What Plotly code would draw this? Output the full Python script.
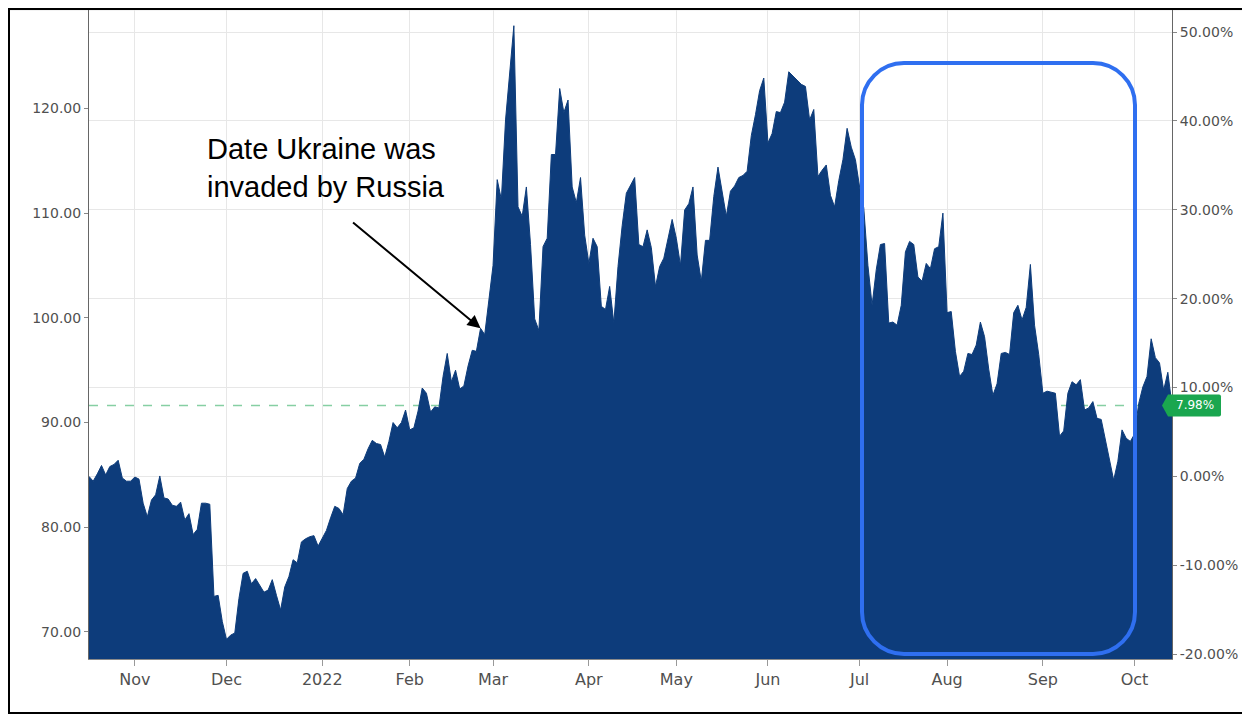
import plotly.graph_objects as go

# ---------------- data ----------------
dates = [
    "2021-10-15", "2021-10-18", "2021-10-19", "2021-10-20", "2021-10-21", "2021-10-22",
    "2021-10-25", "2021-10-26", "2021-10-27", "2021-10-28", "2021-10-29",
    "2021-11-01", "2021-11-02", "2021-11-03", "2021-11-04", "2021-11-05",
    "2021-11-08", "2021-11-09", "2021-11-10", "2021-11-11", "2021-11-12",
    "2021-11-15", "2021-11-16", "2021-11-17", "2021-11-18", "2021-11-19",
    "2021-11-22", "2021-11-23", "2021-11-24", "2021-11-25", "2021-11-26",
    "2021-11-29", "2021-11-30", "2021-12-01", "2021-12-02", "2021-12-03",
    "2021-12-06", "2021-12-07", "2021-12-08", "2021-12-09", "2021-12-10",
    "2021-12-13", "2021-12-14", "2021-12-15", "2021-12-16", "2021-12-17",
    "2021-12-20", "2021-12-21", "2021-12-22", "2021-12-23", "2021-12-24",
    "2021-12-27", "2021-12-28", "2021-12-29", "2021-12-30", "2021-12-31",
    "2022-01-03", "2022-01-04", "2022-01-05", "2022-01-06", "2022-01-07",
    "2022-01-10", "2022-01-11", "2022-01-12", "2022-01-13", "2022-01-14",
    "2022-01-17", "2022-01-18", "2022-01-19", "2022-01-20", "2022-01-21",
    "2022-01-24", "2022-01-25", "2022-01-26", "2022-01-27", "2022-01-28",
    "2022-01-31", "2022-02-01", "2022-02-02", "2022-02-03", "2022-02-04",
    "2022-02-07", "2022-02-08", "2022-02-09", "2022-02-10", "2022-02-11",
    "2022-02-14", "2022-02-15", "2022-02-16", "2022-02-17", "2022-02-18",
    "2022-02-21", "2022-02-22", "2022-02-23", "2022-02-24", "2022-02-25",
    "2022-02-28", "2022-03-01", "2022-03-02", "2022-03-03", "2022-03-04",
    "2022-03-07", "2022-03-08", "2022-03-09", "2022-03-10", "2022-03-11",
    "2022-03-14", "2022-03-15", "2022-03-16", "2022-03-17", "2022-03-18",
    "2022-03-21", "2022-03-22", "2022-03-23", "2022-03-24", "2022-03-25",
    "2022-03-28", "2022-03-29", "2022-03-30", "2022-03-31", "2022-04-01",
    "2022-04-04", "2022-04-05", "2022-04-06", "2022-04-07", "2022-04-08",
    "2022-04-11", "2022-04-12", "2022-04-13", "2022-04-14", "2022-04-18",
    "2022-04-19", "2022-04-20", "2022-04-21", "2022-04-22", "2022-04-25",
    "2022-04-26", "2022-04-27", "2022-04-28", "2022-04-29", "2022-05-02",
    "2022-05-03", "2022-05-04", "2022-05-05", "2022-05-06", "2022-05-09",
    "2022-05-10", "2022-05-11", "2022-05-12", "2022-05-13", "2022-05-16",
    "2022-05-17", "2022-05-18", "2022-05-19", "2022-05-20", "2022-05-23",
    "2022-05-24", "2022-05-25", "2022-05-26", "2022-05-27", "2022-05-30",
    "2022-05-31", "2022-06-01", "2022-06-02", "2022-06-03", "2022-06-06",
    "2022-06-07", "2022-06-08", "2022-06-09", "2022-06-10", "2022-06-13",
    "2022-06-14", "2022-06-15", "2022-06-16", "2022-06-17", "2022-06-20",
    "2022-06-21", "2022-06-22", "2022-06-23", "2022-06-24", "2022-06-27",
    "2022-06-28", "2022-06-29", "2022-06-30", "2022-07-01", "2022-07-04",
    "2022-07-05", "2022-07-06", "2022-07-07", "2022-07-08", "2022-07-11",
    "2022-07-12", "2022-07-13", "2022-07-14", "2022-07-15", "2022-07-18",
    "2022-07-19", "2022-07-20", "2022-07-21", "2022-07-22", "2022-07-25",
    "2022-07-26", "2022-07-27", "2022-07-28", "2022-07-29", "2022-08-01",
    "2022-08-02", "2022-08-03", "2022-08-04", "2022-08-05", "2022-08-08",
    "2022-08-09", "2022-08-10", "2022-08-11", "2022-08-12", "2022-08-15",
    "2022-08-16", "2022-08-17", "2022-08-18", "2022-08-19", "2022-08-22",
    "2022-08-23", "2022-08-24", "2022-08-25", "2022-08-26", "2022-08-29",
    "2022-08-30", "2022-08-31", "2022-09-01", "2022-09-02", "2022-09-05",
    "2022-09-06", "2022-09-07", "2022-09-08", "2022-09-09", "2022-09-12",
    "2022-09-13", "2022-09-14", "2022-09-15", "2022-09-16", "2022-09-19",
    "2022-09-20", "2022-09-21", "2022-09-22", "2022-09-23", "2022-09-26",
    "2022-09-27", "2022-09-28", "2022-09-29", "2022-09-30", "2022-10-03",
    "2022-10-04", "2022-10-05", "2022-10-06", "2022-10-07", "2022-10-10",
    "2022-10-11", "2022-10-12", "2022-10-13", "2022-10-14",
]
prices = [
    84.86, 84.4, 85.1, 85.9, 85.0, 85.8,
    86.0, 86.4, 84.7, 84.4, 84.4,
    84.8, 84.6, 82.3, 81.0, 82.6,
    83.1, 84.9, 82.8, 82.7, 82.1,
    82.0, 82.4, 80.7, 81.3, 79.3,
    79.8, 82.3, 82.3, 82.2, 73.4,
    73.5, 71.0, 69.3, 69.7, 69.9,
    73.2, 75.6, 75.8, 74.6, 75.1,
    74.4, 73.8, 74.0, 75.0, 73.5,
    72.1, 74.3, 75.3, 76.9, 76.6,
    78.6, 78.9, 79.1, 79.2, 78.2,
    79.0, 79.7, 80.9, 82.0, 81.8,
    81.2, 83.7, 84.4, 84.7, 86.1,
    86.5, 87.5, 88.3, 88.0, 87.9,
    86.7, 88.2, 90.0, 89.5, 90.0,
    91.2, 89.3, 89.5, 91.1, 93.3,
    92.8, 91.0, 91.5, 91.4, 94.4,
    96.6, 93.9, 95.0, 93.2, 93.5,
    95.4, 96.9, 96.8, 99.0, 98.4,
    101.7, 105.0, 113.2, 111.3, 118.9,
    123.2, 127.9, 110.6, 109.7, 112.5,
    107.0, 99.9, 98.8, 106.8, 107.6,
    115.6, 115.6, 121.9, 119.6, 120.8,
    112.5, 111.0, 113.4, 107.9, 105.2,
    107.6, 106.8, 101.1, 100.8, 103.0,
    99.5, 104.9, 108.8, 111.9, 113.4,
    107.0, 106.8, 108.4, 106.7, 103.0,
    104.9, 105.7, 107.6, 109.4, 107.6,
    105.0, 110.3, 110.9, 112.5, 106.0,
    103.5, 107.4, 107.4, 111.6, 114.4,
    111.9, 109.7, 112.1, 112.6, 113.4,
    113.6, 114.0, 117.4, 119.4, 121.7,
    122.9, 116.7, 117.6, 119.7, 119.6,
    120.6, 123.5, 123.1, 122.6, 122.3,
    122.1, 118.9, 119.9, 113.5, 114.1,
    114.6, 111.7, 110.6, 113.1, 115.1,
    118.1, 116.3, 115.1, 112.5, 110.5,
    105.0, 101.2, 104.6, 107.0, 107.1,
    99.5, 99.6, 99.3, 101.2, 106.3,
    107.3, 107.0, 103.9, 103.5, 105.2,
    104.7, 106.6, 106.8, 110.0, 100.5,
    100.6, 96.8, 94.4, 94.9, 96.6,
    96.5, 97.4, 99.6, 98.2, 95.1,
    92.6, 93.7, 96.6, 96.7, 96.5,
    100.5, 101.2, 99.8, 101.0, 105.1,
    99.3, 96.5, 92.8, 93.0, 92.9,
    92.8, 88.7, 89.2, 92.8, 93.9,
    93.6, 94.1, 91.2, 91.4, 92.0,
    90.4, 90.3, 88.3, 86.2, 84.5,
    86.3, 89.3, 88.5, 88.2, 88.9,
    91.8, 93.4, 94.4, 98.0, 96.2,
    95.7, 93.1, 94.8, 91.63,
]

month_tick_dates = ["2021-11-01", "2021-12-01", "2022-01-03", "2022-02-01", "2022-03-01",
                    "2022-04-01", "2022-05-02", "2022-06-01", "2022-07-01", "2022-08-01",
                    "2022-09-01", "2022-10-03"]
month_tick_labels = ["Nov", "Dec", "2022", "Feb", "Mar", "Apr", "May", "Jun", "Jul",
                     "Aug", "Sep", "Oct"]
price_ticks = [70, 80, 90, 100, 110, 120]
pct_ticks = [-20, -10, 0, 10, 20, 30, 40, 50]
annotation_text = "Date Ukraine was<br>invaded by Russia"
invasion_date = "2022-02-24"
x_range = ["2021-10-15", "2022-10-14"]
price_range = [67.42, 129.4]

# ---------------- styling / geometry ----------------
# The page adds an 8px body margin, so layout is designed in page pixels
# and the figure margins are reduced accordingly.
W, H = 1250, 715
OFF = 8
PL, PR, PT, PB = 89, 1172, 10, 659          # plot area in page pixels
PW, PH = PR - PL, PB - PT
ML, MT = PL - OFF, PT - OFF
MR, MB = W - ML - PW, H - MT - PH


def px(x):
    return (x - PL) / PW


def py(y):
    return (PB - y) / PH


NAVY = "#0d3c7b"
GRID = "#e7e7e7"
AXFONT = "DejaVu Sans, Verdana, sans-serif"
TICKFONT = dict(family=AXFONT, size=14, color="#505050")

base = prices[0]
last = prices[-1]
pct_values = [(p / base - 1) * 100 for p in prices]
pct_range = [(price_range[0] / base - 1) * 100, (price_range[1] / base - 1) * 100]
last_pct_text = f"{(last / base - 1) * 100:.2f}%"
invasion_price = prices[dates.index(invasion_date)]

fig = go.Figure()
fig.add_trace(go.Scatter(
    x=dates, y=prices, mode="lines",
    line=dict(color=NAVY, width=1), fill="tozeroy", fillcolor=NAVY,
    hoverinfo="skip", showlegend=False,
))
fig.add_trace(go.Scatter(
    x=dates, y=pct_values, yaxis="y2", mode="lines",
    line=dict(color="rgba(0,0,0,0)", width=0),
    hoverinfo="skip", showlegend=False,
))

# rounded highlight box (pixel path anchored in paper space)
bx0, by0, bw, bh, br = 862, 654, 273, 591, 42
k = 0.5523 * br
box_path = (
    f"M {br},0 L {bw - br},0 C {bw - br + k},0 {bw},{br - k} {bw},{br} "
    f"L {bw},{bh - br} C {bw},{bh - br + k} {bw - br + k},{bh} {bw - br},{bh} "
    f"L {br},{bh} C {br - k},{bh} 0,{bh - br + k} 0,{bh - br} "
    f"L 0,{br} C 0,{br - k} {br - k},0 {br},0 Z"
)

badge_path = "M -10,0 L -4,-11 L 47,-11 Q 49,-11 49,-9 L 49,9 Q 49,11 47,11 L -4,11 Z"

shapes = [
    # top light line
    dict(type="line", xref="paper", yref="paper", x0=px(10), x1=px(1248), y0=1, y1=1,
         line=dict(color=GRID, width=1), layer="below"),
    # dashed reference line at last value
    dict(type="line", xref="paper", yref="y", x0=0, x1=px(1160), y0=last, y1=last,
         line=dict(color="#86cfa3", width=1.5, dash="dash"), layer="below"),
    # blue rounded box
    dict(type="path", xref="paper", yref="paper", xsizemode="pixel", ysizemode="pixel",
         xanchor=px(bx0), yanchor=py(by0), path=box_path,
         line=dict(color="#2f6ff0", width=4), fillcolor="rgba(0,0,0,0)"),
    # green badge
    dict(type="path", xref="paper", yref="y", xsizemode="pixel", ysizemode="pixel",
         xanchor=1, yanchor=last, path=badge_path,
         line=dict(color="#1aa64f", width=0), fillcolor="#1aa64f"),
    # outer border
    dict(type="rect", xref="paper", yref="paper", x0=px(OFF + 1), x1=px(1248),
         y0=py(713), y1=py(OFF + 1),
         line=dict(color="#000000", width=2), fillcolor="rgba(0,0,0,0)"),
]

annotations = [
    dict(xref="paper", yref="paper", x=px(205), y=py(131), xanchor="left", yanchor="top",
         text=annotation_text, showarrow=False, align="left",
         font=dict(family="Liberation Sans, Arial, sans-serif", size=29, color="#000000")),
    dict(x=invasion_date, y=invasion_price, xref="x", yref="y", text="", showarrow=True,
         ax=-129, ay=-107, axref="pixel", ayref="pixel",
         arrowhead=2, arrowsize=1.3, arrowwidth=2, arrowcolor="#000000", standoff=0),
    dict(xref="paper", yref="y", x=1, y=last, xanchor="center", yanchor="middle",
         xshift=22.5, text=last_pct_text, showarrow=False,
         font=dict(family=AXFONT, size=12, color="#ffffff")),
]

fig.update_layout(
    width=W, height=H,
    margin=dict(l=ML, r=MR, t=MT, b=MB),
    paper_bgcolor="white", plot_bgcolor="white",
    showlegend=False,
    xaxis=dict(
        type="date", range=x_range,
        rangebreaks=[dict(bounds=["sat", "mon"])],
        tickvals=month_tick_dates, ticktext=month_tick_labels,
        showgrid=True, gridcolor=GRID, gridwidth=1,
        ticks="outside", ticklen=6, tickcolor="#999999",
        showline=True, linecolor="#8a8a8a", linewidth=1,
        tickfont=dict(family=AXFONT, size=16, color="#505050"),
        zeroline=False,
    ),
    yaxis=dict(
        range=price_range, tickvals=price_ticks, tickformat=".2f",
        showgrid=False, ticks="outside", ticklen=4, tickcolor="#888888",
        showline=True, linecolor="#666666", linewidth=1,
        tickfont=TICKFONT, zeroline=False,
    ),
    yaxis2=dict(
        overlaying="y", side="right", range=pct_range,
        tickvals=pct_ticks, ticktext=[f"{v:.2f}%" for v in pct_ticks],
        showgrid=True, gridcolor=GRID, gridwidth=1,
        ticks="outside", ticklen=4, tickcolor="#888888",
        showline=True, linecolor="#666666", linewidth=1,
        tickfont=TICKFONT, zeroline=False,
    ),
    shapes=shapes,
    annotations=annotations,
)

fig.write_html("out.html")
